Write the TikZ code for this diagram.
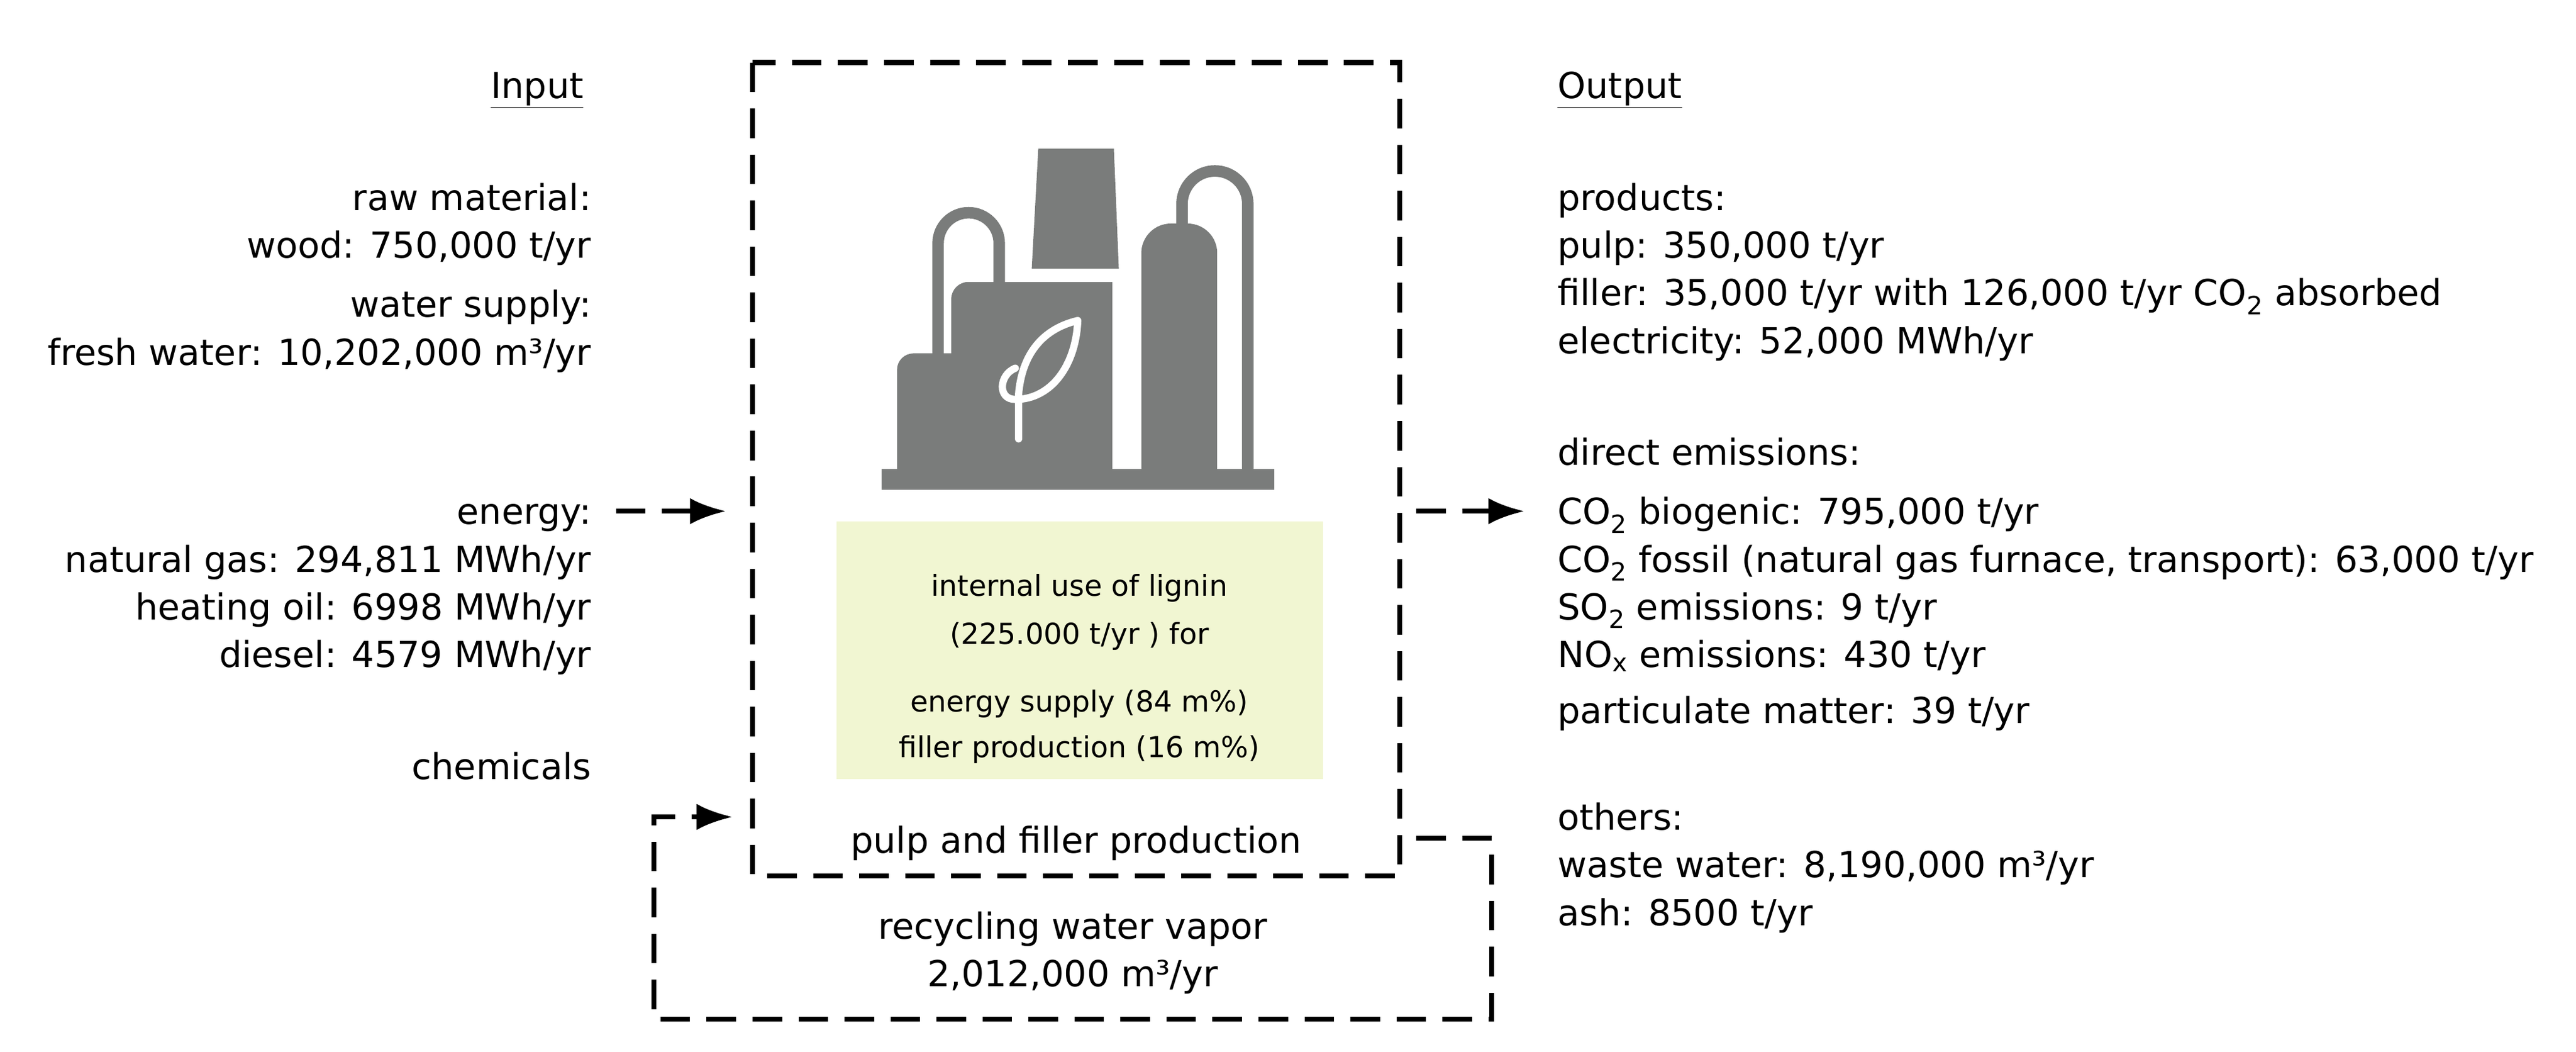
\documentclass[tikz,border=0pt]{standalone}
\usepackage{fontspec}
\setmainfont{DejaVu Sans}
\usetikzlibrary{arrows.meta}
\begin{document}
\begin{tikzpicture}[x=0.05cm,y=-0.05cm,
  txt/.style={font=\fontsize{31}{41}\selectfont,inner sep=0pt},
  L/.style={txt,anchor=base east},
  R/.style={txt,anchor=base west},
  dsh/.style={line width=4.3pt,dash pattern=on 0.9cm off 0.5cm},
  arr/.style={dsh,-{Latex[length=1.1cm,width=0.8cm]}},
  pipe/.style={draw=icongray,line width=0.35cm}]
\definecolor{icongray}{HTML}{7A7C7B}
\definecolor{lgreen}{HTML}{F1F6D2}
\useasboundingbox (0,0) rectangle (1568,640);
% Input column
\node[txt,anchor=base] (in) at (327,60) {\underline{Input}};
\node[L] (i1) at (360,128) {raw material:};
\node[L] (i2) at (360,157) {wood: 750,000 t/yr};
\node[L] (i3) at (360,193) {water supply:};
\node[L] (i4) at (360,222) {fresh water: 10,202,000 m³/yr};
\node[L] (i5) at (360,319) {energy:};
\node[L] (i6) at (360,348) {natural gas: 294,811 MWh/yr};
\node[L] (i7) at (360,377) {heating oil: 6998 MWh/yr};
\node[L] (i8) at (360,406) {diesel: 4579 MWh/yr};
\node[L] (i9) at (360,474) {chemicals};
% box
\draw[dsh] (458,38) rectangle (852,533);
\node[fill=lgreen,minimum width=14.8cm,minimum height=7.85cm,anchor=north west,inner sep=0pt] (g) at (509,317) {};
\node[font=\fontsize{25}{42}\selectfont,align=center,anchor=base] (g1) at (657,392) {internal use of lignin\\(225.000 t/yr ) for};
\node[font=\fontsize{25}{40}\selectfont,align=center,anchor=base] (g2) at (657,461) {energy supply (84 m\%)\\filler production (16 m\%)};
\node[txt,font=\fontsize{31}{36}\selectfont,anchor=base] (p) at (655,519) {pulp and filler production};
% icon
\fill[icongray] (536.5,285.5) rectangle (775.5,297.8);
\fill[icongray] (546,290) -- (546,225) arc[start angle=180,end angle=270,radius=10] -- (585,215) -- (585,290) -- cycle;
\draw[pipe] (571,216) -- (571,148) arc[start angle=180,end angle=360,radius=18.6] -- (608.2,175);
\fill[icongray] (579,290) -- (579,182) arc[start angle=180,end angle=270,radius=10.5] -- (677,171.5) -- (677,290) -- cycle;
\fill[icongray] (632,90.5) -- (678,90.5) -- (681,163.5) -- (628,163.5) -- cycle;
\draw[pipe] (719.5,140) -- (719.5,124) arc[start angle=180,end angle=360,radius=20] -- (759.5,290);
\fill[icongray] (694.7,290) -- (694.7,154) arc[start angle=180,end angle=270,radius=18] -- (722.9,136) arc[start angle=270,end angle=360,radius=18] -- (740.9,290) -- cycle;
\draw[white,line width=0.22cm,line cap=round,line join=round] (620,267) -- (620,240) .. controls (622,215) and (635,200) .. (656,195) .. controls (655,222) and (640,243) .. (618,243) .. controls (607,243) and (608,228) .. (618,224);
% arrows
\coordinate (ea) at (375,311); \coordinate (eb) at (442,311);
\draw[arr] (ea) -- (eb);
\coordinate (oa) at (862,311); \coordinate (ob) at (928,311);
\draw[arr] (oa) -- (ob);
\coordinate (r0) at (862,510); \coordinate (r1) at (908,510); \coordinate (r2) at (908,620);
\coordinate (r3) at (398,620); \coordinate (r4) at (398,497); \coordinate (r5) at (446,497);
\draw[arr] (r0) -- (r1) -- (r2) -- (r3) -- (r4) -- (r5);
\node[txt,anchor=base,align=center] (rw) at (653,600) {recycling water vapor\\2,012,000 m³/yr};
% Output column
\node[R] (out) at (948,60) {\underline{Output}};
\node[R] (o1) at (948,128) {products:};
\node[R] (o2) at (948,157) {pulp: 350,000 t/yr};
\node[R] (o3) at (948,186) {filler: 35,000 t/yr with 126,000 t/yr CO\textsubscript{2} absorbed};
\node[R] (o4) at (948,215) {electricity: 52,000 MWh/yr};
\node[R] (o5) at (948,283) {direct emissions:};
\node[R] (o6) at (948,319) {CO\textsubscript{2} biogenic: 795,000 t/yr};
\node[R] (o7) at (948,348) {CO\textsubscript{2} fossil (natural gas furnace, transport): 63,000 t/yr};
\node[R] (o8) at (948,377) {SO\textsubscript{2} emissions: 9 t/yr};
\node[R] (o9) at (948,406) {NO\textsubscript{x} emissions: 430 t/yr};
\node[R] (o10) at (948,440) {particulate matter: 39 t/yr};
\node[R] (o11) at (948,505) {others:};
\node[R] (o12) at (948,534) {waste water: 8,190,000 m³/yr};
\node[R] (o13) at (948,563) {ash: 8500 t/yr};
\end{tikzpicture}
\end{document}
